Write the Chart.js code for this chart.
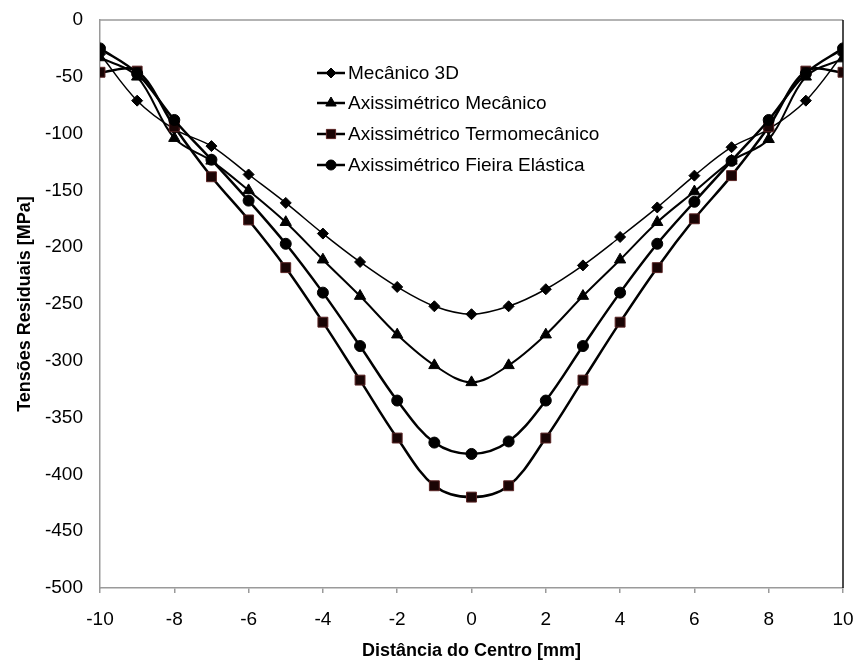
<!DOCTYPE html>
<html>
<head>
<meta charset="utf-8">
<script src="https://cdn.jsdelivr.net/npm/chart.js@4/dist/chart.umd.min.js"></script>
<style>
  html, body { margin: 0; padding: 0; background: #fff; }
  #wrap { width: 856px; height: 664px; }
</style>
</head>
<body>
<div id="wrap"><canvas id="chart" width="856" height="664"></canvas></div>
<script>
"use strict";

// distance from centre (mm)
const distances = [-10, -9, -8, -7, -6, -5, -4, -3, -2, -1, 0, 1, 2, 3, 4, 5, 6, 7, 8, 9, 10];

// residual stresses (MPa)
const mecanico3D = [-30, -71, -96, -111, -136, -161, -188, -213, -235, -252, -259, -252, -237, -216, -191, -165, -137, -112, -96, -71, -30];
const axiMecanico = [-33, -50, -104, -124, -150, -178, -211, -243, -277, -304, -319, -304, -277, -243, -211, -178, -151, -124, -105, -50, -34];
const axiTermo = [-46, -45, -94, -138, -176, -218, -266, -317, -368, -410, -420, -410, -368, -317, -266, -218, -175, -137, -94, -45, -46];
const axiFieira = [-25, -47, -88, -123, -159, -197, -240, -287, -335, -372, -382, -371, -335, -287, -240, -197, -160, -124, -88, -47, -25];

const xTicks = [-10, -8, -6, -4, -2, 0, 2, 4, 6, 8, 10];
const yTicks = [0, -50, -100, -150, -200, -250, -300, -350, -400, -450, -500];

const FONT = "'Liberation Sans', Arial, sans-serif";

const toPoints = ys => ys.map((y, i) => ({ x: distances[i], y }));

const series = [
    { label: "Mecânico 3D", data: mecanico3D, style: "rectRot", r: 5.5, lw: 1.5, fill: "#000", edge: "#000", order: 3 },
    { label: "Axissimétrico Mecânico", data: axiMecanico, style: "triangle", r: 6.5, lw: 2, fill: "#000", edge: "#000", order: 2 },
    { label: "Axissimétrico Termomecânico", data: axiTermo, style: "rect", r: 7, lw: 2.5, fill: "#1a0505", edge: "#5a2424", order: 1 },
    { label: "Axissimétrico Fieira Elástica", data: axiFieira, style: "circle", r: 5.5, lw: 2.5, fill: "#000", edge: "#000", order: 0 }
];

const datasets = series.map(s => ({
    label: s.label,
    data: toPoints(s.data),
    borderColor: "#000",
    borderWidth: s.lw,
    tension: 0.35,
    pointStyle: s.style,
    pointRadius: s.r,
    pointHoverRadius: s.r,
    pointBackgroundColor: s.fill,
    pointBorderColor: s.edge,
    pointBorderWidth: 1,
    order: s.order
}));

// legend with line + marker, placed inside the plot
const innerLegend = {
    id: "innerLegend",
    afterDatasetsDraw(chart)
    {
        const ctx = chart.ctx;
        const x0 = 317, x1 = 345, rows = [73, 103, 134, 165];
        ctx.save();
        series.forEach((s, i) =>
        {
            const y = rows[i];
            ctx.strokeStyle = "#000";
            ctx.lineWidth = 2.5;
            ctx.beginPath();
            ctx.moveTo(x0, y);
            ctx.lineTo(x1, y);
            ctx.stroke();
            ctx.fillStyle = s.fill;
            ctx.strokeStyle = s.edge;
            ctx.lineWidth = 1;
            Chart.helpers.drawPoint(ctx, { pointStyle: s.style, radius: s.r - 0.5, rotation: 0, borderWidth: 1 }, (x0 + x1) / 2, y);
            ctx.fillStyle = "#000";
            ctx.font = `19px ${FONT}`;
            ctx.textBaseline = "middle";
            ctx.textAlign = "left";
            ctx.fillText(s.label, x1 + 3, y + 1);
        });
        ctx.restore();
    }
};

// top and right frame of the plot area
const frame = {
    id: "frame",
    beforeDatasetsDraw(chart)
    {
        const { ctx, chartArea: a } = chart;
        ctx.save();
        ctx.lineWidth = 1.5;
        ctx.strokeStyle = "#9a9a9a";
        ctx.beginPath();
        ctx.moveTo(a.left, a.top);
        ctx.lineTo(a.right, a.top);
        ctx.stroke();
        ctx.strokeStyle = "#111";
        ctx.beginPath();
        ctx.moveTo(a.right, a.top);
        ctx.lineTo(a.right, a.bottom);
        ctx.stroke();
        ctx.restore();
    }
};

// tick label overhang must not shrink the plot area
const noOverhang = sc =>
{
    sc.paddingLeft = sc.paddingRight = sc.paddingTop = sc.paddingBottom = 0;
};

new Chart(document.getElementById("chart"), {
    type: "line",
    data: { datasets },
    options: {
        responsive: false,
        animation: false,
        events: [],
        layout: { padding: { top: 20, right: 13, left: 0, bottom: 0 } },
        plugins: {
            legend: { display: false },
            tooltip: { enabled: false }
        },
        scales: {
            x: {
                type: "linear",
                min: -10,
                max: 10,
                afterBuildTicks: sc => { sc.ticks = xTicks.map(v => ({ value: v })); },
                afterFit: sc => { sc.height = 76; noOverhang(sc); },
                ticks: { color: "#000", font: { family: FONT, size: 19 }, padding: 15, maxRotation: 0 },
                grid: { drawOnChartArea: false, drawTicks: true, tickLength: 5, color: "#9a9a9a", lineWidth: 1.5 },
                border: { color: "#9a9a9a", width: 1.5 },
                title: {
                    display: true,
                    text: "Distância do Centro [mm]",
                    color: "#000",
                    font: { family: FONT, size: 18, weight: "bold" },
                    padding: { top: 0, bottom: 2 }
                }
            },
            y: {
                type: "linear",
                min: -500,
                max: 0,
                afterBuildTicks: sc => { sc.ticks = yTicks.map(v => ({ value: v })); },
                afterFit: sc => { sc.width = 100; noOverhang(sc); },
                ticks: { color: "#000", font: { family: FONT, size: 19 }, padding: 17 },
                grid: { display: false, drawTicks: false },
                border: { color: "#9a9a9a", width: 1.5 },
                title: {
                    display: true,
                    text: "Tensões Residuais [MPa]",
                    color: "#000",
                    font: { family: FONT, size: 18, weight: "bold" },
                    padding: { top: 14, bottom: 0 }
                }
            }
        }
    },
    plugins: [frame, innerLegend]
});
</script>
</body>
</html>
